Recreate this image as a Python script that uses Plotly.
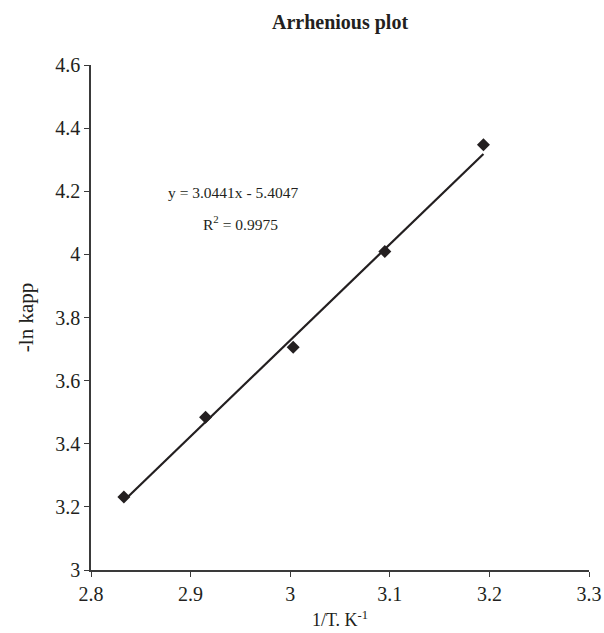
import plotly.graph_objects as go
import numpy as np

inv_T = [2.833, 2.915, 3.003, 3.095, 3.194]
neg_ln_kapp = [3.231, 3.484, 3.706, 4.009, 4.347]
slope = 3.0441
intercept = -5.4047
r2 = 0.9975

x_ticks = [2.8, 2.9, 3.0, 3.1, 3.2, 3.3]
y_ticks = [3, 3.2, 3.4, 3.6, 3.8, 4, 4.2, 4.4, 4.6]

ink = "#231f20"
axis_col = "#3a3a3a"
font = "Liberation Serif, Times New Roman, serif"

fit_x = np.array([min(inv_T), max(inv_T)])
fit_y = slope * fit_x + intercept

fig = go.Figure()
fig.add_trace(go.Scatter(x=fit_x, y=fit_y, mode="lines",
                         line=dict(color=ink, width=2.2), showlegend=False, hoverinfo="skip"))
fig.add_trace(go.Scatter(x=inv_T, y=neg_ln_kapp, mode="markers",
                         marker=dict(symbol="diamond", size=10, color=ink), showlegend=False))

fig.add_annotation(x=2.943, y=4.195, xref="x", yref="y", showarrow=False,
                   text=f"y = {slope}x - {abs(intercept)}", font=dict(size=15.5, color=ink, family=font))
fig.add_annotation(x=2.95, y=4.1, xref="x", yref="y", showarrow=False,
                   text=f"R<sup>2</sup> = {r2}", font=dict(size=15.5, color=ink, family=font))

fig.update_layout(
    width=604, height=633,
    margin=dict(l=91, r=15, t=65, b=63, autoexpand=False),
    paper_bgcolor="white", plot_bgcolor="white",
    font=dict(family=font, color=ink, size=20),
    title=dict(text="<b>Arrhenious plot</b>", x=340 / 604, xanchor="center",
               y=1 - 22 / 633, yanchor="middle", font=dict(size=20, family=font, color=ink)),
    xaxis=dict(range=[2.8, 3.3], tickvals=x_ticks, showgrid=False, zeroline=False,
               showline=True, linecolor=axis_col, linewidth=1.5, ticks="outside", ticklen=5,
               tickcolor=axis_col, tickfont=dict(size=20), automargin=False,
               title=dict(text="1/T. K<sup>-1</sup>", font=dict(size=18), standoff=10)),
    yaxis=dict(range=[3, 4.6], tickvals=y_ticks, showgrid=False, zeroline=False,
               showline=True, linecolor=axis_col, linewidth=1.5, ticks="outside", ticklen=5,
               tickcolor=axis_col, tickfont=dict(size=20), automargin=False,
               title=dict(text="-ln kapp", font=dict(size=21), standoff=16)),
)

fig.write_html("out.html", config={"displayModeBar": False},
               post_script="document.body.style.margin='0px';")
